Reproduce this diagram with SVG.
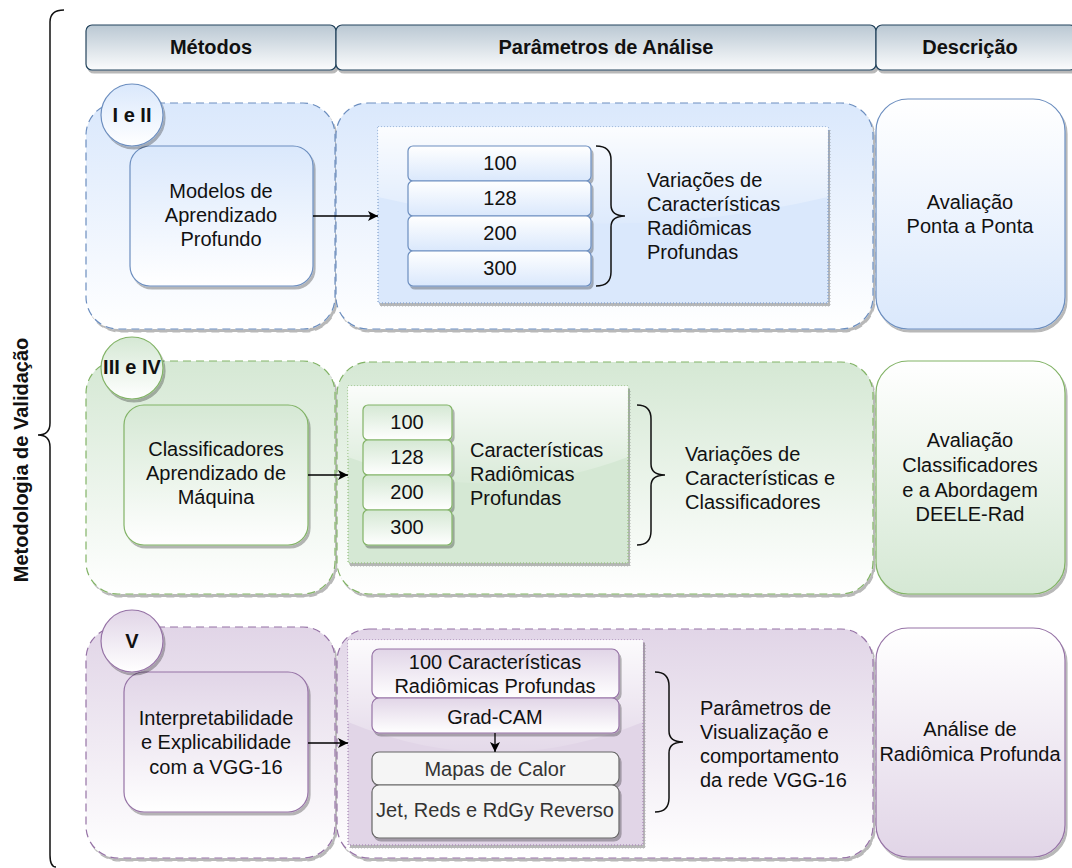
<svg xmlns="http://www.w3.org/2000/svg" width="1072" height="868" viewBox="0 0 1072 868">
  <defs>
    <linearGradient id="hdr" x1="0" y1="0" x2="0" y2="1"><stop offset="0" stop-color="#bac8d3"/><stop offset="1" stop-color="#fbfcfd"/></linearGradient>
    <linearGradient id="bDown" x1="0" y1="0" x2="0" y2="1"><stop offset="0" stop-color="#dae8fc"/><stop offset="1" stop-color="#ffffff"/></linearGradient>
    <linearGradient id="bUp" x1="0" y1="0" x2="0" y2="1"><stop offset="0" stop-color="#ffffff"/><stop offset="1" stop-color="#dae8fc"/></linearGradient>
    <linearGradient id="gDown" x1="0" y1="0" x2="0" y2="1"><stop offset="0" stop-color="#d5e8d4"/><stop offset="1" stop-color="#ffffff"/></linearGradient>
    <linearGradient id="gUp" x1="0" y1="0" x2="0" y2="1"><stop offset="0" stop-color="#ffffff"/><stop offset="1" stop-color="#d5e8d4"/></linearGradient>
    <linearGradient id="pDown" x1="0" y1="0" x2="0" y2="1"><stop offset="0" stop-color="#e1d5e7"/><stop offset="1" stop-color="#ffffff"/></linearGradient>
    <linearGradient id="pUp" x1="0" y1="0" x2="0" y2="1"><stop offset="0" stop-color="#ffffff"/><stop offset="1" stop-color="#e1d5e7"/></linearGradient>
    <linearGradient id="glass" x1="0" y1="0" x2="0" y2="1"><stop offset="0" stop-color="#ffffff" stop-opacity="0.9"/><stop offset="1" stop-color="#ffffff" stop-opacity="0.1"/></linearGradient>
    <filter id="sh" x="-10%" y="-10%" width="125%" height="125%">
      <feDropShadow dx="2" dy="3" stdDeviation="0.7" flood-color="#000" flood-opacity="0.28"/>
    </filter>
    <marker id="arr" viewBox="0 0 10 10" refX="10" refY="5" markerWidth="10" markerHeight="10" markerUnits="userSpaceOnUse" orient="auto">
      <path d="M0,0 L10,5 L0,10 L2.5,5 Z" fill="#000"/>
    </marker>
    <style>
      text { font-family: "Liberation Sans", Arial, sans-serif; font-size: 20px; fill: #111; }
      .b { font-weight: bold; }
      .c { text-anchor: middle; }
      .hdr { fill: url(#hdr); stroke: #23445d; stroke-width: 1.2; filter: url(#sh); }
      .cont { stroke-dasharray: 8 5; stroke-width: 1.2; filter: url(#sh); }
      .solid { stroke-width: 1.2; filter: url(#sh); }
      .panel { stroke-dasharray: 1 2; stroke-width: 1; filter: url(#sh); }
      .blue { stroke: #6c8ebf; }
      .green { stroke: #82b366; }
      .purple { stroke: #9673a6; }
      .grey { fill: #f5f5f5; stroke: #666666; stroke-width: 1.2; }
      .brace { fill: none; stroke: #111; stroke-width: 1.5; }
      .edge { fill: none; stroke: #000; stroke-width: 1.3; marker-end: url(#arr); }
    </style>
  </defs>

  <!-- outer curly brace and side title -->
  <g id="methodology">
    <path class="brace" d="M64,10 Q50,10 50,22 L50,423 Q50,435 38,435 Q50,435 50,447 L50,855 Q50,867 56,867" stroke="#333"/>
    <text class="b c" transform="translate(28,460) rotate(-90)">Metodologia de Validação</text>
  </g>

  <!-- column headers -->
  <g id="headers">
    <rect class="hdr" x="86" y="25" width="250" height="45" rx="6"/>
    <rect class="hdr" x="336" y="25" width="540" height="45" rx="6"/>
    <rect class="hdr" x="876" y="25" width="200" height="45" rx="6"/>
    <text class="b c" x="211" y="54">Métodos</text>
    <text class="b c" x="606" y="54">Parâmetros de Análise</text>
    <text class="b c" x="970" y="54">Descrição</text>
  </g>

  <!-- row I e II -->
  <g id="row1-methods">
    <rect class="cont blue" x="86" y="103" width="249" height="226" rx="32" fill="url(#bDown)"/>
    <rect class="solid blue" x="130" y="146" width="183" height="140" rx="20" fill="url(#bDown)"/>
    <text class="c" x="221" y="198">Modelos de</text>
    <text class="c" x="221" y="222">Aprendizado</text>
    <text class="c" x="221" y="246">Profundo</text>
  </g>
  <g id="row1-badge">
    <circle class="solid blue" cx="132" cy="115" r="31" fill="url(#bDown)"/>
    <text class="b c" x="132" y="122">I e II</text>
  </g>
  <g id="row1-params">
    <rect class="cont blue" x="336" y="103" width="537" height="226" rx="32" fill="url(#bDown)"/>
    <rect class="panel" x="378" y="127" width="450" height="176" fill="#dae8fc" stroke="#6c8ebf"/>
    <path d="M378,127 L378,197 Q603,250 828,197 L828,127 Z" fill="url(#glass)"/>
    <rect class="solid blue" x="408" y="146" width="183" height="35" rx="5" fill="url(#bUp)"/>
    <rect class="solid blue" x="408" y="181" width="183" height="35" rx="5" fill="url(#bUp)"/>
    <rect class="solid blue" x="408" y="216" width="183" height="35" rx="5" fill="url(#bUp)"/>
    <rect class="solid blue" x="408" y="251" width="183" height="35" rx="5" fill="url(#bUp)"/>
    <text class="c" x="500" y="170">100</text>
    <text class="c" x="500" y="205">128</text>
    <text class="c" x="500" y="240">200</text>
    <text class="c" x="500" y="275">300</text>
    <path class="brace" d="M596,146 Q611,146 611,160 L611,205 Q611,216 625,216 Q611,216 611,227 L611,272 Q611,286 596,286"/>
    <text x="647" y="187">Variações de</text>
    <text x="647" y="211">Características</text>
    <text x="647" y="235">Radiômicas</text>
    <text x="647" y="259">Profundas</text>
  </g>
  <g id="row1-desc">
    <rect class="solid blue" x="876" y="99" width="189" height="230" rx="32" fill="url(#bUp)"/>
    <text class="c" x="970" y="209">Avaliação</text>
    <text class="c" x="970" y="233">Ponta a Ponta</text>
  </g>

  <!-- row III e IV -->
  <g id="row2-methods">
    <rect class="cont green" x="86" y="361" width="249" height="233" rx="32" fill="url(#gDown)"/>
    <rect class="solid green" x="124" y="405" width="184" height="140" rx="20" fill="url(#gDown)"/>
    <text class="c" x="216" y="456">Classificadores</text>
    <text class="c" x="216" y="480">Aprendizado de</text>
    <text class="c" x="216" y="504">Máquina</text>
  </g>
  <g id="row2-badge">
    <circle class="solid green" cx="132" cy="368" r="31" fill="url(#gDown)"/>
    <text class="b c" x="132" y="374">III e IV</text>
  </g>
  <g id="row2-params">
    <rect class="cont green" x="337" y="362" width="536" height="232" rx="32" fill="url(#gDown)"/>
    <rect class="panel" x="348" y="386" width="280" height="177" fill="#d5e8d4" stroke="#82b366"/>
    <path d="M348,386 L348,457 Q488,510 628,457 L628,386 Z" fill="url(#glass)"/>
    <rect class="solid green" x="363" y="405" width="89" height="35" rx="5" fill="url(#gDown)"/>
    <rect class="solid green" x="363" y="440" width="89" height="35" rx="5" fill="url(#gDown)"/>
    <rect class="solid green" x="363" y="475" width="89" height="35" rx="5" fill="url(#gDown)"/>
    <rect class="solid green" x="363" y="510" width="89" height="35" rx="5" fill="url(#gDown)"/>
    <text class="c" x="407" y="429">100</text>
    <text class="c" x="407" y="464">128</text>
    <text class="c" x="407" y="499">200</text>
    <text class="c" x="407" y="534">300</text>
    <text x="470" y="457">Características</text>
    <text x="470" y="481">Radiômicas</text>
    <text x="470" y="505">Profundas</text>
    <path class="brace" d="M637,405 Q651,405 651,419 L651,464 Q651,475 665,475 Q651,475 651,486 L651,531 Q651,545 637,545"/>
    <text x="685" y="461">Variações de</text>
    <text x="685" y="485">Características e</text>
    <text x="685" y="509">Classificadores</text>
  </g>
  <g id="row2-desc">
    <rect class="solid green" x="876" y="361" width="189" height="233" rx="32" fill="url(#gUp)"/>
    <text class="c" x="970" y="447">Avaliação</text>
    <text class="c" x="970" y="472">Classificadores</text>
    <text class="c" x="970" y="497">e a Abordagem</text>
    <text class="c" x="970" y="521">DEELE-Rad</text>
  </g>

  <!-- row V -->
  <g id="row3-methods">
    <rect class="cont purple" x="86" y="627" width="249" height="231" rx="32" fill="url(#pDown)"/>
    <rect class="solid purple" x="124" y="672" width="184" height="140" rx="20" fill="url(#pDown)"/>
    <text class="c" x="216" y="725">Interpretabilidade</text>
    <text class="c" x="216" y="749">e Explicabilidade</text>
    <text class="c" x="216" y="774">com a VGG-16</text>
  </g>
  <g id="row3-badge">
    <circle class="solid purple" cx="132" cy="641" r="31" fill="url(#pDown)"/>
    <text class="b c" x="132" y="648">V</text>
  </g>
  <g id="row3-params">
    <rect class="cont purple" x="337" y="629" width="536" height="229" rx="32" fill="url(#pDown)"/>
    <rect class="panel" x="348" y="640" width="295" height="205" fill="#e1d5e7" stroke="#9673a6"/>
    <path d="M348,640 L348,722 Q495,783 643,722 L643,640 Z" fill="url(#glass)"/>
    <rect class="solid purple" x="372" y="649" width="247" height="49" rx="7" fill="url(#pDown)"/>
    <rect class="solid purple" x="372" y="698" width="247" height="35" rx="7" fill="url(#pDown)"/>
    <rect class="grey" x="372" y="752" width="247" height="33" rx="7" filter="url(#sh)"/>
    <rect class="grey" x="372" y="785" width="247" height="53" rx="7" filter="url(#sh)"/>
    <text class="c" x="495" y="669">100 Características</text>
    <text class="c" x="495" y="693">Radiômicas Profundas</text>
    <text class="c" x="495" y="724">Grad-CAM</text>
    <text class="c" x="495" y="776" style="fill:#333">Mapas de Calor</text>
    <text class="c" x="495" y="817" style="fill:#333">Jet, Reds e RdGy Reverso</text>
    <path class="brace" d="M655,672 Q669,672 669,686 L669,731 Q669,742 683,742 Q669,742 669,753 L669,798 Q669,812 655,812"/>
    <text x="700" y="715">Parâmetros de</text>
    <text x="700" y="739">Visualização e</text>
    <text x="700" y="763">comportamento</text>
    <text x="700" y="787">da rede VGG-16</text>
  </g>
  <g id="row3-desc">
    <rect class="solid purple" x="876" y="628" width="189" height="229" rx="32" fill="url(#pUp)"/>
    <text class="c" x="970" y="736">Análise de</text>
    <text class="c" x="970" y="761">Radiômica Profunda</text>
  </g>

  <!-- connectors -->
  <g id="connectors">
    <line class="edge" x1="313" y1="216" x2="378" y2="216"/>
    <line class="edge" x1="308" y1="475" x2="348" y2="475"/>
    <line class="edge" x1="308" y1="743" x2="348" y2="743"/>
    <line class="edge" x1="495" y1="733" x2="495" y2="752"/>
  </g>
</svg>
